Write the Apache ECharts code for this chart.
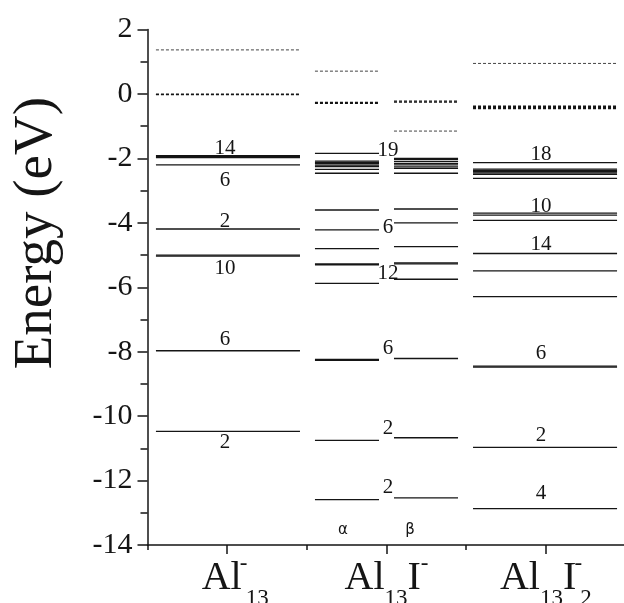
<!DOCTYPE html>
<html><head><meta charset="utf-8">
<script src="https://cdn.jsdelivr.net/npm/echarts@6/dist/echarts.min.js"></script>
<style>html,body{margin:0;padding:0;background:#fff}#c{width:624px;height:603px}</style>
</head><body><div id="c"></div>
<script>
// ---- data (energies in eV) ----
const categories = ['Al13-', 'Al13I-', 'Al13I2-'];
const spinLabels = ['α', 'β'];
const spinLabelE = [-13.55, -13.55];

const al13Occ   = [-1.91, -1.94, -1.97, -2.20, -4.19, -5.00, -5.03, -7.97, -10.47];
const al13Unocc = [1.37, 0.00, -0.02];
const al13Labels = ['14', '6', '2', '10', '6', '2'];
const al13LabelE = [-1.69, -2.67, -3.97, -5.41, -7.62, -10.83];

const al13IAlphaOcc   = [-1.84, -2.08, -2.12, -2.16, -2.21, -2.25, -2.34, -2.46, -3.60, -4.22, -4.80, -5.27, -5.30, -5.88, -8.24, -8.27, -10.75, -12.59];
const al13IAlphaUnocc = [0.71, -0.26, -0.29];
const al13IBetaOcc    = [-2.00, -2.03, -2.09, -2.15, -2.20, -2.26, -2.31, -2.46, -3.57, -4.00, -4.74, -5.24, -5.27, -5.75, -8.21, -10.67, -12.54];
const al13IBetaUnocc  = [-0.22, -0.25, -1.15];
const al13ILabels = ['19', '6', '12', '6', '2', '2'];
const al13ILabelE = [-1.74, -4.13, -5.56, -7.89, -10.38, -12.20];

const al13I2Occ   = [-2.13, -2.33, -2.37, -2.41, -2.45, -2.49, -2.62, -3.70, -3.76, -3.92, -4.95, -5.49, -6.29, -8.45, -8.48, -10.97, -12.87];
const al13I2Unocc = [0.95, -0.38, -0.42, -0.45];
const al13I2Labels = ['18', '10', '14', '6', '2', '4'];
const al13I2LabelE = [-1.89, -3.50, -4.66, -8.05, -10.59, -12.40];

// ---- layout helpers (x in category units, 0..3) ----
const SPAN = {
  al13:  [0.053, 0.957],
  alpha: [1.051, 1.453],
  beta:  [1.547, 1.949],
  al13I2:[2.043, 2.947]
};
const LABEL_X = { al13: 0.487, al13I: 1.51, al13I2: 2.47 };
const SPIN_X = [1.227, 1.648];

const SERIF = 'Liberation Serif, Times New Roman, serif';
const INK = '#151515';

function levelSeries(energies, span, dashed, width, color) {
  return {
    type: 'custom',
    xAxisIndex: 0, yAxisIndex: 0,
    silent: true,
    data: energies.map(e => [span[0], span[1], e]),
    encode: { x: [0, 1], y: 2 },
    renderItem: function (params, api) {
      const p0 = api.coord([api.value(0), api.value(2)]);
      const p1 = api.coord([api.value(1), api.value(2)]);
      return {
        type: 'line',
        shape: { x1: p0[0], y1: p0[1], x2: p1[0], y2: p1[1] },
        style: { stroke: color, lineWidth: width, lineDash: dashed ? [3, 2] : null }
      };
    }
  };
}

function textSeries(texts, energies, xs, font) {
  return {
    type: 'custom',
    xAxisIndex: 0, yAxisIndex: 0,
    silent: true,
    data: energies.map((e, i) => [Array.isArray(xs) ? xs[i] : xs, e]),
    encode: { x: 0, y: 1 },
    renderItem: function (params, api) {
      const p = api.coord([api.value(0), api.value(1)]);
      return {
        type: 'text',
        style: {
          text: texts[params.dataIndex], x: p[0], y: p[1],
          align: 'center', verticalAlign: 'middle',
          font: font, fill: INK
        }
      };
    }
  };
}

const richLabels = {
  'Al13-':   '{gap| }{m|Al}{sp|-}{sb|13}',
  'Al13I-':  '{m|Al}{sb|13}{m|I}{sq|-}',
  'Al13I2-': '{m|Al}{sb|13}{m|I}{sp|-}{sb|2}'
};

const chart = echarts.init(document.getElementById('c'), null, { renderer: 'canvas' });
chart.setOption({
  animation: false,
  backgroundColor: '#ffffff',
  grid: { left: 147.5, right: -1.5, top: 29.6, bottom: 58, outerBoundsMode: 'none', containLabel: false },
  xAxis: [
    {
      type: 'value', min: 0, max: 3, interval: 1, position: 'bottom',
      axisLine: { show: true, onZero: false, lineStyle: { color: INK, width: 1.5 } },
      axisTick: { show: true, length: 5, inside: false, lineStyle: { color: INK, width: 1.5 } },
      axisLabel: { show: false },
      splitLine: { show: false }
    },
    {
      type: 'category', data: categories, position: 'bottom', boundaryGap: true,
      axisLine: { show: false, onZero: false },
      axisTick: { show: true, alignWithLabel: true, length: 9, lineStyle: { color: INK, width: 1.5 } },
      splitLine: { show: false },
      axisLabel: {
        margin: 2, interval: 0, hideOverlap: false,
        formatter: v => richLabels[v],
        rich: {
          gap: { fontFamily: SERIF, fontSize: 24, width: 16 },
          m:  { fontFamily: SERIF, fontSize: 40, color: INK },
          sb: { fontFamily: SERIF, fontSize: 23, color: INK, padding: [40, 0, 0, 0] },
          sp: { fontFamily: SERIF, fontSize: 23, color: INK, padding: [0, 0, 30, 0], width: 4 },
          sq: { fontFamily: SERIF, fontSize: 23, color: INK, padding: [0, 0, 30, 0] }
        }
      }
    }
  ],
  yAxis: {
    type: 'value', min: -14, max: 2, interval: 2,
    axisLine: { show: true, onZero: false, lineStyle: { color: INK, width: 1.5 } },
    axisTick: { show: true, length: 10, inside: false, lineStyle: { color: INK, width: 1.5 } },
    minorTick: { show: true, splitNumber: 2, length: 7, lineStyle: { color: INK, width: 1.5 } },
    axisLabel: { fontFamily: SERIF, fontSize: 30, color: INK, margin: 15 },
    splitLine: { show: false }
  },
  graphic: [{
    type: 'text',
    left: 9, top: 97,
    rotation: Math.PI / 2,
    style: { text: 'Energy (eV)', font: '55px ' + SERIF, fill: INK }
  }],
  series: [
    levelSeries(al13Occ, SPAN.al13, false, 1.3, INK),
    levelSeries(al13Unocc.slice(0, 1), SPAN.al13, true, 1.0, '#444'),
    levelSeries(al13Unocc.slice(1), SPAN.al13, true, 1.3, INK),
    levelSeries(al13IAlphaOcc, SPAN.alpha, false, 1.3, INK),
    levelSeries(al13IAlphaUnocc.slice(0, 1), SPAN.alpha, true, 1.0, '#444'),
    levelSeries(al13IAlphaUnocc.slice(1), SPAN.alpha, true, 1.3, INK),
    levelSeries(al13IBetaOcc, SPAN.beta, false, 1.3, INK),
    levelSeries(al13IBetaUnocc.slice(0, 2), SPAN.beta, true, 1.3, INK),
    levelSeries(al13IBetaUnocc.slice(2), SPAN.beta, true, 1.0, '#444'),
    levelSeries(al13I2Occ, SPAN.al13I2, false, 1.3, INK),
    levelSeries(al13I2Unocc.slice(0, 1), SPAN.al13I2, true, 1.0, '#444'),
    levelSeries(al13I2Unocc.slice(1), SPAN.al13I2, true, 1.3, INK),
    textSeries(al13Labels, al13LabelE, LABEL_X.al13, '21px ' + SERIF),
    textSeries(al13ILabels, al13ILabelE, LABEL_X.al13I, '21px ' + SERIF),
    textSeries(al13I2Labels, al13I2LabelE, LABEL_X.al13I2, '21px ' + SERIF),
    textSeries(spinLabels, spinLabelE, SPIN_X, '15px DejaVu Sans, sans-serif')
  ]
});
</script>
</body></html>
